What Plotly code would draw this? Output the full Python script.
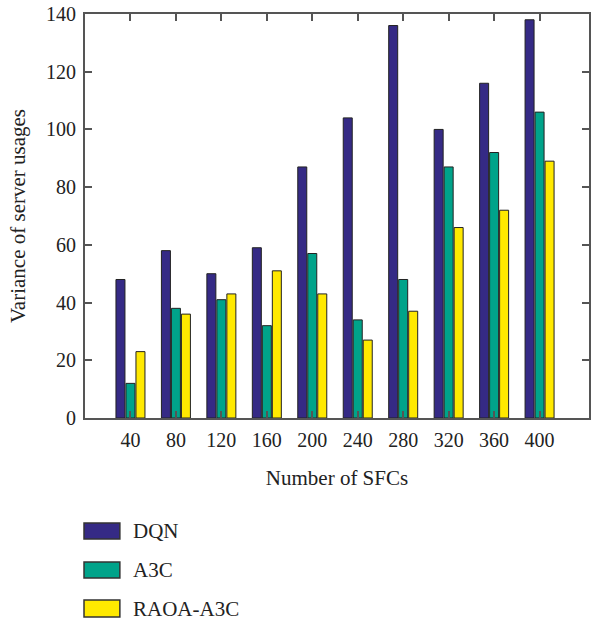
import plotly.graph_objects as go

categories = [40, 80, 120, 160, 200, 240, 280, 320, 360, 400]
dqn = [48, 58, 50, 59, 87, 104, 136, 100, 116, 138]
a3c = [12, 38, 41, 32, 57, 34, 48, 87, 92, 106]
raoa = [23, 36, 43, 51, 43, 27, 37, 66, 72, 89]
series_names = ["DQN", "A3C", "RAOA-A3C"]
colors = ["#352A85", "#00A38A", "#FFE900"]
y_ticks = [0, 20, 40, 60, 80, 100, 120, 140]

W, H = 594, 620
L, R, T, B = 85, 3, 14, 202
FONT = "Liberation Serif"

fig = go.Figure()
for name, vals, col in zip(series_names, [dqn, a3c, raoa], colors):
    fig.add_trace(go.Bar(
        x=categories, y=vals, name=name,
        marker=dict(color=col, line=dict(color="#222222", width=1)),
        showlegend=False,
    ))

axis_common = dict(
    showline=True, linecolor="#555555", linewidth=2, mirror="ticks",
    ticks="inside", ticklen=7, tickwidth=1.5, tickcolor="#555555",
    showgrid=False, zeroline=False,
    tickfont=dict(family=FONT, size=20, color="#222222"),
)

fig.update_layout(
    width=W, height=H,
    margin=dict(l=L, r=R, t=T, b=B),
    paper_bgcolor="white", plot_bgcolor="white",
    barmode="group", bargap=0.34, bargroupgap=0.1,
    font=dict(family=FONT, size=20, color="#222222"),
    xaxis=dict(
        **axis_common,
        range=[0, 443.5],
        tickvals=categories, ticktext=[str(c) for c in categories],
        ticklabelstandoff=3,
        title=dict(text="Number of SFCs", font=dict(family=FONT, size=21), standoff=20),
    ),
    yaxis=dict(
        **axis_common,
        range=[0, 140],
        tickvals=y_ticks,
        ticklabelstandoff=3,
        title=dict(text="Variance of server usages", font=dict(family=FONT, size=21), standoff=15),
    ),
)

plot_h = H - T - B
plot_w = W - L - R


def px_to_paper_x(px):
    return (px - L) / plot_w


def px_to_paper_y(py):
    return (H - B - py) / plot_h


legend_rows = [(523, 539), (562, 578), (600, 617)]
for name, col, (y0, y1) in zip(series_names, colors, legend_rows):
    fig.add_shape(
        type="rect", xref="paper", yref="paper",
        x0=px_to_paper_x(84), x1=px_to_paper_x(120),
        y0=px_to_paper_y(y1), y1=px_to_paper_y(y0),
        fillcolor=col, line=dict(color="#333333", width=1.5),
    )
    fig.add_annotation(
        xref="paper", yref="paper",
        x=px_to_paper_x(131), y=px_to_paper_y((y0 + y1) / 2),
        text=name, showarrow=False, xanchor="left", yanchor="middle",
        font=dict(family=FONT, size=21, color="#222222"),
    )

fig.write_html("out.html")
